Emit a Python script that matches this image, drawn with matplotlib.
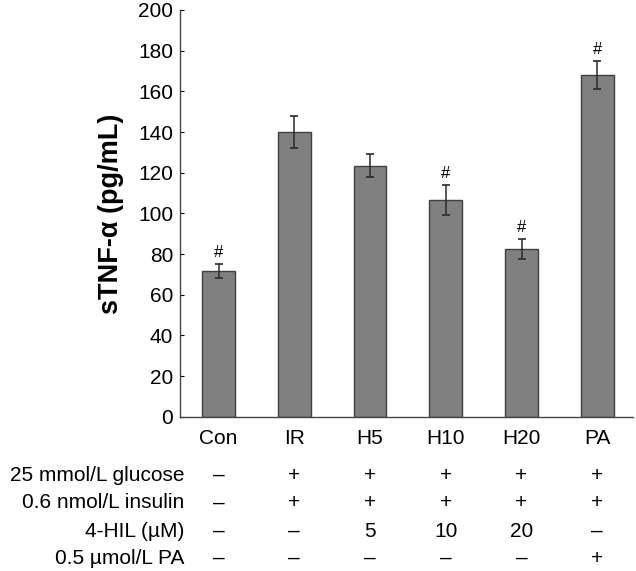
import numpy as np
import matplotlib.pyplot as plt
import matplotlib.transforms as transforms

# Data
groups = ['Con', 'IR', 'H5', 'H10', 'H20', 'PA']
means = [71.5, 140.0, 123.5, 106.5, 82.5, 168.0]
errors = [3.5, 8.0, 5.5, 7.3, 5.0, 7.0]
significant = [True, False, False, True, True, True]

row_names = ['25 mmol/L glucose', '0.6 nmol/L insulin', '4-HIL (\u00b5M)', '0.5 \u00b5mol/L PA']
row_glucose = ['\u2013', '+', '+', '+', '+', '+']
row_insulin = ['\u2013', '+', '+', '+', '+', '+']
row_hil = ['\u2013', '\u2013', '5', '10', '20', '\u2013']
row_pa = ['\u2013', '\u2013', '\u2013', '\u2013', '\u2013', '+']
rows = [row_glucose, row_insulin, row_hil, row_pa]

plt.rcParams['font.family'] = ['Liberation Sans', 'DejaVu Sans']

fig = plt.figure(figsize=(6.36, 5.71), dpi=100)
ax = fig.add_axes([0.283, 0.2702, 0.712, 0.7123])

x = np.arange(len(groups))
ax.bar(x, means, width=0.43, color='#808080', edgecolor='#404040', linewidth=1.0, zorder=2)
ax.errorbar(x, means, yerr=errors, fmt='none', ecolor='#2a2a2a', elinewidth=1.1,
            capsize=3, capthick=1.2, zorder=3)

# significance marks
for xi, m, e, s in zip(x, means, errors, significant):
    if s:
        ax.annotate('#', (xi, m + e), xytext=(0, 3), textcoords='offset points',
                    ha='center', va='bottom', fontsize=12)

ax.set_xlim(-0.51, 5.47)
ax.set_ylim(0, 200)
ax.set_yticks(np.arange(0, 201, 20))
ax.set_xticks(x)
ax.set_xticklabels(groups, fontsize=15)
ax.tick_params(axis='x', length=0, pad=9)
ax.tick_params(axis='y', direction='in', length=3, labelsize=15, pad=5)
for side in ['top', 'right']:
    ax.spines[side].set_visible(False)
for side in ['left', 'bottom']:
    ax.spines[side].set_color('#444444')
    ax.spines[side].set_linewidth(1.0)

ax.set_ylabel('sTNF-\u03b1 (pg/mL)', fontsize=19.5, fontweight='bold', labelpad=10)

# treatment table under the axis
trans = transforms.blended_transform_factory(ax.transData, ax.transAxes)
row_y = [-0.1434, -0.212, -0.281, -0.3475]
for name, vals, ry in zip(row_names, rows, row_y):
    ax.text(0.009, ry, name, transform=ax.transAxes, ha='right', va='center', fontsize=15)
    for xi, v in zip(x, vals):
        ax.text(xi, ry, v, transform=trans, ha='center', va='center', fontsize=15)

fig.savefig('out.png', dpi=100)
